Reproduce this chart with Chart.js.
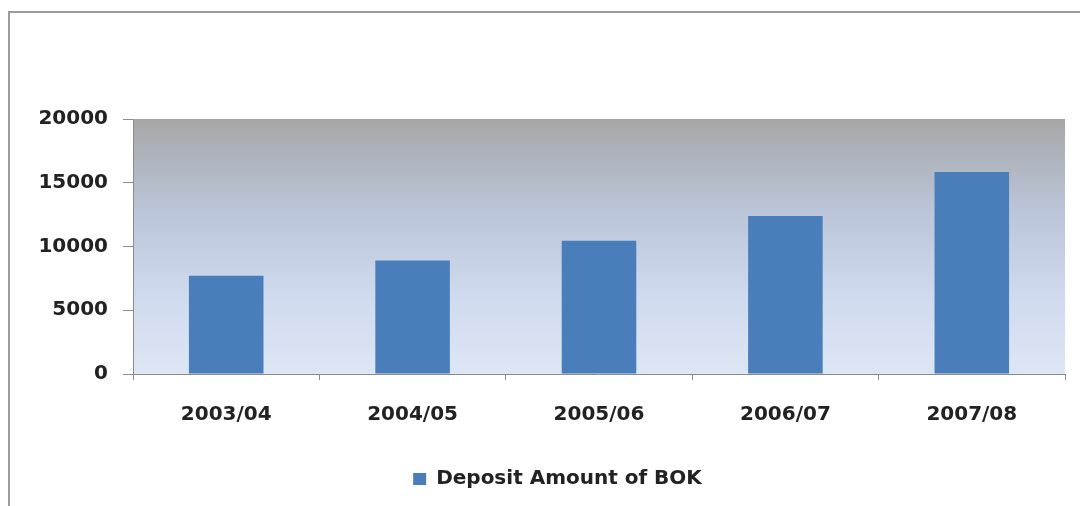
<!DOCTYPE html>
<html>
<head>
<meta charset="utf-8">
<script src="https://cdn.jsdelivr.net/npm/chart.js@4/dist/chart.umd.min.js"></script>
<style>
  body { margin: 0; background: #fff; }
</style>
</head>
<body>
<canvas id="grafico" width="1080" height="506"></canvas>
<script>
let anos = ["2003/04", "2004/05", "2005/06", "2006/07", "2007/08"];
let deposito = [7700, 8900, 10450, 12400, 15850];
let nomeSerie = "Deposit Amount of BOK";
let marcasY = [0, 5000, 10000, 15000, 20000];

// fundo em degrade da area do grafico e moldura cinza
var fundo = {
  id: 'fundo',
  afterLayout: function(chart) {
    // legenda um pouco para a direita, como no original
    chart.legend.left += 25;
    chart.legend.right += 25;
  },
  beforeDraw: function(chart) {
    var ctx = chart.ctx;
    var a = chart.chartArea;
    ctx.save();
    ctx.fillStyle = '#ffffff';
    ctx.fillRect(0, 0, chart.width, chart.height);
    ctx.strokeStyle = '#9c9c9c';
    ctx.lineWidth = 2;
    ctx.beginPath();
    ctx.moveTo(9, chart.height);
    ctx.lineTo(9, 12);
    ctx.lineTo(chart.width, 12);
    ctx.stroke();
    var g = ctx.createLinearGradient(0, a.top, 0, a.bottom);
    g.addColorStop(0, '#a6a6a6');
    g.addColorStop(0.35, '#bac4d8');
    g.addColorStop(0.7, '#cfdaee');
    g.addColorStop(1, '#dde6f4');
    ctx.fillStyle = g;
    ctx.fillRect(a.left, a.top, a.right - a.left, a.bottom - a.top);
    ctx.restore();
  }
};

var ctx = document.getElementById('grafico').getContext('2d');
var chart = new Chart(ctx, {
  type: 'bar',
  data: {
    labels: anos,
    datasets: [{
      label: nomeSerie,
      backgroundColor: '#4a7ebb',
      borderWidth: 0,
      data: deposito,
      barPercentage: 0.4,
      categoryPercentage: 1
    }]
  },
  options: {
    responsive: false,
    animation: false,
    layout: { padding: { top: 119, right: 15, left: 0, bottom: 7 } },
    plugins: {
      tooltip: { enabled: false },
      legend: {
        position: 'bottom',
        labels: {
          boxWidth: 13,
          boxHeight: 12,
          color: '#222',
          padding: 10,
          font: { family: 'DejaVu Sans', weight: 'bold', size: 20 }
        }
      }
    },
    scales: {
      x: {
        afterFit: function(s) { s.height = 85; },
        grid: { offset: true, drawOnChartArea: false, tickLength: 6, color: '#8c8c8c' },
        border: { color: '#8c8c8c' },
        ticks: {
          color: '#222',
          padding: 23,
          font: { family: 'DejaVu Sans', weight: 'bold', size: 20 }
        }
      },
      y: {
        min: 0,
        max: 20000,
        afterFit: function(s) { s.width = 133; },
        afterBuildTicks: function(s) { s.ticks = marcasY.map(function(v) { return { value: v }; }); },
        grid: { drawOnChartArea: false, tickLength: 10, color: '#8c8c8c' },
        border: { color: '#8c8c8c' },
        ticks: {
          color: '#222',
          padding: 15,
          callback: function(v) { return String(v); },
          font: { family: 'DejaVu Sans', weight: 'bold', size: 20 }
        }
      }
    }
  },
  plugins: [fundo]
});
</script>
</body>
</html>
